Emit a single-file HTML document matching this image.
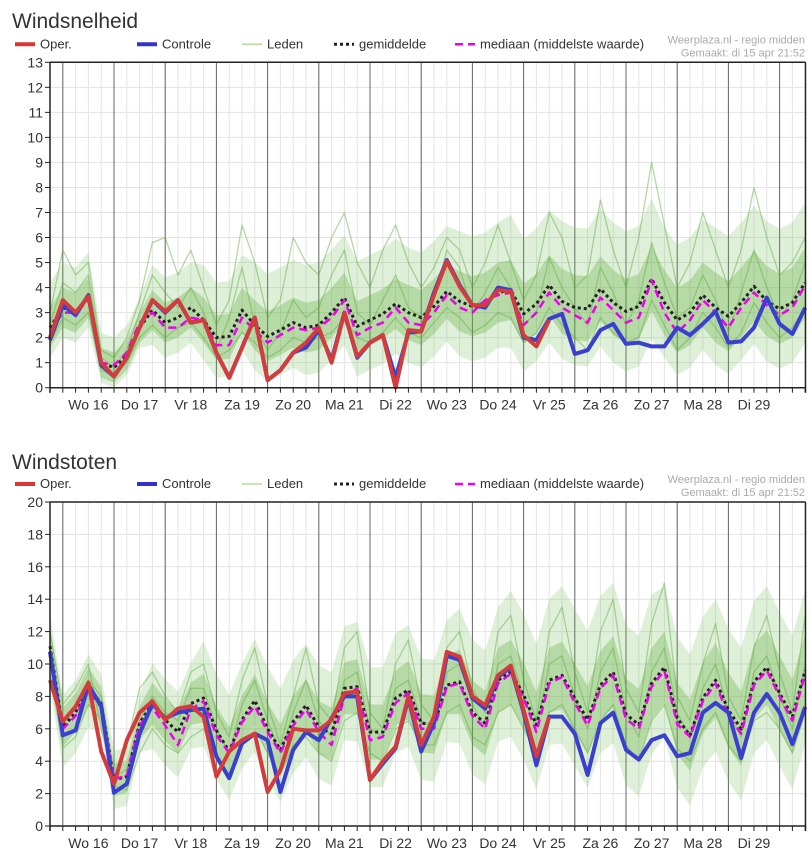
<!DOCTYPE html>
<html><head><meta charset="utf-8">
<style>
html,body{margin:0;padding:0;background:#fff;}
svg{display:block;font-family:"Liberation Sans",sans-serif;}
</style></head>
<body>
<svg id="root" width="811" height="858" viewBox="0 0 811 858" xmlns="http://www.w3.org/2000/svg"></svg>
<script>
// ---------- shared ----------
const dayLabels = ["Wo 16","Do 17","Vr 18","Za 19","Zo 20","Ma 21","Di 22","Wo 23","Do 24","Vr 25","Za 26","Zo 27","Ma 28","Di 29"];

// ---------- Windsnelheid data ----------
const speedTicks = [0,1,2,3,4,5,6,7,8,9,10,11,12,13];
const speedOper = [2.0,3.5,3.0,3.65,1.0,0.45,1.2,2.4,3.5,3.05,3.5,2.6,2.7,1.4,0.4,1.6,2.8,0.3,0.7,1.4,1.8,2.4,1.0,3.0,1.25,1.8,2.1,0.0,2.3,2.25,3.7,5.05,4.05,3.3,3.3,3.9,3.85,2.1,1.65,2.7];
const speedControle = [1.9,3.3,2.9,3.7,0.9,0.45,1.2,2.4,3.5,3.0,3.5,2.6,2.7,1.4,0.4,1.6,2.8,0.3,0.7,1.4,1.6,2.3,1.1,3.0,1.2,1.8,2.1,0.4,2.2,2.25,3.8,5.1,4.1,3.3,3.2,4.0,3.9,2.0,1.9,2.75,2.95,1.35,1.5,2.3,2.55,1.75,1.8,1.65,1.65,2.4,2.1,2.55,3.05,1.8,1.85,2.4,3.6,2.55,2.15,3.2];
const speedMean = [2.4,3.2,3.0,3.6,1.0,0.8,1.3,2.4,3.1,2.6,2.8,3.2,2.7,2.0,2.05,3.1,2.5,2.05,2.3,2.6,2.4,2.5,3.0,3.6,2.45,2.7,2.95,3.35,3.0,2.8,3.25,3.85,3.45,3.25,3.4,3.8,3.9,2.95,3.35,4.1,3.45,3.2,3.15,3.95,3.4,3.05,3.25,4.35,3.4,2.7,3.0,3.7,3.2,2.85,3.4,4.05,3.45,3.15,3.4,4.2];
const speedMedian = [2.2,3.0,3.0,3.5,1.0,0.9,1.4,2.6,3.0,2.4,2.4,2.8,2.7,1.7,1.7,2.8,2.3,1.8,2.1,2.4,2.3,2.4,2.8,3.5,2.1,2.4,2.6,3.2,2.6,2.5,3.0,3.7,3.2,3.0,3.5,3.7,3.8,2.5,3.0,3.8,3.2,2.9,2.6,3.6,3.1,2.6,2.8,4.3,3.0,2.2,2.7,3.5,3.0,2.4,3.2,3.8,3.3,2.9,3.2,4.1];
const speedMember1 = [2.5,4.2,3.8,4.5,1.2,0.8,1.5,3.0,4.5,3.8,3.2,4.0,3.0,1.5,2.8,4.8,2.5,1.5,2.2,3.5,2.8,3.2,4.5,5.5,3.0,2.5,3.5,4.5,3.2,2.8,3.5,5.5,4.8,3.0,3.8,4.8,4.0,2.5,3.0,5.2,4.0,3.2,2.5,4.8,3.8,2.5,3.5,5.8,4.2,2.8,3.2,4.5,3.5,2.2,3.8,5.5,4.0,2.8,3.5,5.0];
const speedMember2 = [1.8,2.8,2.5,3.0,0.7,0.5,1.0,2.0,2.5,2.0,2.4,2.6,2.0,1.2,1.5,2.2,1.8,1.2,1.5,2.0,1.8,2.0,2.2,2.8,2.0,1.8,2.2,2.8,2.2,2.0,2.6,3.2,2.8,2.2,2.5,3.0,2.8,1.8,2.2,3.2,2.5,2.0,1.5,2.8,2.2,1.8,2.0,3.5,2.5,1.5,2.0,3.0,2.4,1.6,2.2,3.4,2.6,2.0,2.4,3.2];
const speedMember3 = [3.0,5.5,4.5,5.0,1.5,1.2,2.0,3.5,5.8,6.0,4.5,5.5,4.0,2.5,3.5,6.5,5.0,2.8,3.5,6.0,5.0,4.5,6.0,7.0,5.0,4.0,5.5,6.5,5.0,4.0,4.8,6.0,5.5,4.0,5.0,6.5,5.0,3.5,4.5,7.0,6.0,4.0,4.5,7.5,5.5,4.0,6.0,9.0,6.5,4.0,5.0,7.0,5.5,4.0,5.5,8.0,6.0,4.5,5.0,6.0];
const speedInnerSpread = [0.8,0.6,0.8,0.9,1.0,1.0,1.0,1.1,1.2,1.2,1.3,1.3,1.3,1.4,1.4];
const speedOuterHigh = [1.8,1.2,1.8,2.2,2.5,2.5,2.6,2.6,2.8,3.0,3.2,3.2,3.0,3.2,3.2];
const speedOuterLow = [1.2,0.8,1.4,1.6,1.8,1.9,2.0,2.0,2.2,2.3,2.3,2.4,2.2,2.3,2.4];

// ---------- Windstoten data ----------
const gustTicks = [0,2,4,6,8,10,12,14,16,18,20];
const gustOper = [9.0,6.45,7.37,8.85,4.6,2.6,5.3,7.0,7.7,6.55,7.25,7.4,6.75,3.05,4.6,5.3,5.7,2.1,3.45,6.0,5.9,5.9,6.55,8.2,8.3,2.85,4.0,4.9,8.0,5.0,6.75,10.75,10.45,8.0,7.45,9.3,9.9,7.15,4.3,6.75];
const gustControle = [10.75,5.6,5.9,8.7,7.4,2.05,2.6,5.7,7.55,6.65,7.0,7.15,7.25,4.3,2.95,5.1,5.7,5.3,2.1,4.7,5.8,5.3,6.65,8.0,8.0,2.85,3.85,4.8,7.9,4.6,6.35,10.5,10.25,7.9,7.25,9.2,9.8,7.0,3.75,6.75,6.75,5.7,3.15,6.35,7.0,4.7,4.1,5.3,5.6,4.3,4.5,7.0,7.6,7.0,4.2,7.0,8.15,7.0,5.05,7.35];
const gustMean = [11.1,6.1,7.0,8.6,7.55,2.85,3.05,6.35,7.55,6.55,5.8,7.55,7.9,5.9,4.6,6.55,7.75,6.0,4.7,6.45,7.45,6.1,5.7,8.5,8.6,5.8,5.8,7.9,8.4,6.35,6.25,8.7,8.9,7.0,6.35,9.0,9.5,8.1,6.25,9.0,9.3,7.9,6.55,8.7,9.5,6.9,6.25,8.8,9.8,6.65,5.6,7.9,9.0,7.15,6.0,8.9,9.8,8.2,6.75,9.6];
const gustMedian = [10.8,6.0,6.8,8.4,7.3,2.9,3.1,6.2,7.3,6.2,5.0,7.2,7.7,5.6,4.5,6.4,7.4,5.8,4.5,6.2,7.2,5.8,5.0,8.0,8.5,5.3,5.5,7.6,8.2,6.0,6.0,8.6,8.8,6.8,6.0,8.8,9.4,7.9,5.8,8.8,9.2,7.6,6.2,8.5,9.3,6.6,6.0,8.6,9.6,6.3,5.5,7.7,8.8,6.8,5.7,8.7,9.6,8.0,6.5,9.4];
const gustMember1 = [12,7.5,8.5,10,6,3,5,8.5,9.5,8,7,9.5,10,7,5.5,9,11,7.5,5,8,11,7.5,6.5,11,12,7,6,10,11.5,7.5,6.5,11,12,8.5,7,12,13,9,6.5,12,13.5,9.5,7,12,14,8.5,7,12.5,15,8,6.5,10,12.5,8,6.5,11,13,9.5,7,13];
const gustMember2 = [9.5,4.8,5.5,7.5,6.5,2.5,2.2,4.5,6,5,4.5,5.5,6,4.2,3.2,5,6,4.5,3.2,5,5.5,4.5,4,6.5,7,4.5,4,6,6.5,5,5,7,7.5,5.5,5,7,7.5,6,4.5,7,7.5,6,4.5,6.5,7.5,5,4,6.5,7.5,4.8,4,6,7,5,4,6.5,7,6,4.5,7];
const gustMember3 = [11,6.5,7.5,9,8,3,3.5,6.5,8,7,6.5,8.5,8.5,6,4.5,7.5,9,6.5,4.5,7,9,6.5,5.5,9,9.5,6,5.5,8.5,9,6.5,6,9.5,10,7.5,6,10,10.5,8,6,10,10.5,8,6,9.5,11,7,5.5,9.5,11,7,5.5,8.5,10,7,5.5,9.5,10.5,8,6,10];
const gustInnerSpread = [1.2,1.0,1.3,1.5,1.6,1.6,1.7,1.8,2.0,2.0,2.1,2.2,2.2,2.3,2.3];
const gustOuterHigh = [2.0,1.8,2.5,3.5,3.8,3.8,4.0,4.0,4.5,5.0,5.5,5.5,5.0,5.0,5.0];
const gustOuterLow = [2.5,1.8,2.8,3.0,3.2,3.2,3.4,3.5,3.8,4.0,4.2,4.4,4.3,4.4,4.5];

const NS = "http://www.w3.org/2000/svg";
const root = document.getElementById("root");
function mk(tag, attrs, parent){
  const e = document.createElementNS(NS, tag);
  for (const k in attrs) e.setAttribute(k, attrs[k]);
  (parent||root).appendChild(e);
  return e;
}

function drawChart(c){
  const g = mk("g", {});
  
  
  const left = 50, right = 805.5, stepX = 12.8;
  const xScale = i => left + i*stepX;
  const yScale = v => c.zeroY - (v/c.max)*(c.zeroY - c.topY);

  const t = mk("text", {x:12, y:c.titleY, "font-size":21, fill:"#333"}, g);
  t.textContent = c.title;
  
  
  const cr1 = mk("text", {x:805, y:c.topY-19, "font-size":11, fill:"#aaa", "text-anchor":"end"}, g);
  cr1.textContent = "Weerplaza.nl - regio midden";
  
  
  const cr2 = mk("text", {x:805, y:c.topY-6, "font-size":11, fill:"#aaa", "text-anchor":"end"}, g);
  cr2.textContent = "Gemaakt: di 15 apr 21:52";
  
  

  const ly = c.topY - 14;
  const legend = mk("g", {}, g);
  
  
  const items = [
    {x:15, label:"Oper.", stroke:"#d33", w:4, dash:"", name:"legend-oper"},
    {x:137, label:"Controle", stroke:"#33c", w:4, dash:"", name:"legend-controle"},
    {x:242, label:"Leden", stroke:"#b5dca0", w:1.5, dash:"", name:"legend-leden"},
    {x:334, label:"gemiddelde", stroke:"#222", w:3, dash:"3,3", name:"legend-gemiddelde"},
    {x:455, label:"mediaan (middelste waarde)", stroke:"#e0e", w:2.5, dash:"8,5", name:"legend-mediaan"}
  ];
  items.forEach(it=>{
    const eg = mk("g", {}, legend);
    
    
    mk("line", {x1:it.x, x2:it.x+20, y1:ly-4, y2:ly-4, stroke:it.stroke, "stroke-width":it.w, "stroke-dasharray":it.dash}, eg);
    const tx = mk("text", {x:it.x+25, y:ly, "font-size":13, fill:"#333"}, eg);
    tx.textContent = it.label;
  });

  const grid = mk("g", {}, g);
  
  
  for (let i=1;i<60;i++){
    mk("line", {x1:xScale(i), x2:xScale(i), y1:c.topY, y2:c.zeroY, stroke:"#e3e3e3", "stroke-width":1}, grid);
  }
  c.ticks.forEach(v=>{
    mk("line", {x1:left, x2:right, y1:yScale(v), y2:yScale(v), stroke:"#e3e3e3", "stroke-width":1}, grid);
  });
  for (let d=0; d<15; d++){
    const x = xScale(1 + d*4);
    mk("line", {x1:x, x2:x, y1:c.topY, y2:c.zeroY, stroke:"#666", "stroke-width":1}, grid);
  }

  const dayOf = i => Math.min(14, Math.floor(i/4));
  function band(lowFn, highFn, fill, name){
    let pts = [];
    for (let i=0;i<60;i++) pts.push(xScale(i)+","+yScale(Math.max(0,Math.min(c.max,highFn(i)))));
    for (let i=59;i>=0;i--) pts.push(xScale(i)+","+yScale(Math.max(0,lowFn(i))));
    const p = mk("polygon", {points:pts.join(" "), fill:fill}, g);
    
    
  }
  band(i=>c.mean[i]-c.outerLow[dayOf(i)], i=>c.mean[i]+c.outerHigh[dayOf(i)], "rgba(110,185,80,0.22)", "ensemble-outer-range");
  band(i=>c.mean[i]-c.inner[dayOf(i)], i=>c.mean[i]+c.inner[dayOf(i)], "rgba(90,170,50,0.30)", "ensemble-inner-range");

  function line(arr, stroke, w, dash, name, op){
    const pts = arr.map((v,i)=>xScale(i)+","+yScale(v)).join(" ");
    const p = mk("polyline", {points:pts, fill:"none", stroke:stroke, "stroke-width":w, "stroke-dasharray":dash||"", "stroke-linejoin":"round", opacity:op||1}, g);
    
    
  }
  c.members.forEach((m,k)=>{
    line(m, "#5aa83a", 1.3, "", "ensemble-member-"+(k+1), 0.45);
  });
  line(c.mean, "#222", 3, "3,3", "mean-line");
  line(c.median, "#e0e", 2.5, "8,5", "median-line");
  line(c.controle, "#3a3fd0", 4, "", "controle-line");
  line(c.oper, "#d33c3c", 4, "", "oper-line");

  const ax = mk("g", {}, g);
  
  
  mk("line", {x1:left, x2:left, y1:c.topY, y2:c.zeroY+5, stroke:"#222", "stroke-width":1.5}, ax);
  mk("line", {x1:right, x2:right, y1:c.topY, y2:c.zeroY+5, stroke:"#222", "stroke-width":1.5}, ax);
  mk("line", {x1:left, x2:right, y1:c.topY, y2:c.topY, stroke:"#222", "stroke-width":1.5}, ax);
  mk("line", {x1:left, x2:right, y1:c.zeroY, y2:c.zeroY, stroke:"#222", "stroke-width":1.5}, ax);
  for (let i=0;i<60;i++){
    mk("line", {x1:xScale(i), x2:xScale(i), y1:c.zeroY, y2:c.zeroY+5, stroke:"#222", "stroke-width":1}, ax);
  }
  c.ticks.forEach(v=>{
    mk("line", {x1:left-5, x2:left, y1:yScale(v), y2:yScale(v), stroke:"#222", "stroke-width":1}, ax);
    const tl = mk("text", {x:left-7, y:yScale(v)+5, "font-size":14, fill:"#333", "text-anchor":"end"}, ax);
    tl.textContent = v;
    
    
  });
  dayLabels.forEach((lab,d)=>{
    const tl = mk("text", {x:xScale(1+d*4)+25.6, y:c.zeroY+22, "font-size":14, fill:"#333", "text-anchor":"middle"}, ax);
    tl.textContent = lab;
    
    
  });
}

drawChart({name:"windsnelheid", title:"Windsnelheid", titleY:28, topY:62.3, zeroY:387.7, max:13,
  ticks:speedTicks, oper:speedOper, controle:speedControle, mean:speedMean, median:speedMedian,
  members:[speedMember1, speedMember2, speedMember3], inner:speedInnerSpread, outerHigh:speedOuterHigh, outerLow:speedOuterLow});
drawChart({name:"windstoten", title:"Windstoten", titleY:469, topY:502, zeroY:826, max:20,
  ticks:gustTicks, oper:gustOper, controle:gustControle, mean:gustMean, median:gustMedian,
  members:[gustMember1, gustMember2, gustMember3], inner:gustInnerSpread, outerHigh:gustOuterHigh, outerLow:gustOuterLow});
</script>
</body></html>
